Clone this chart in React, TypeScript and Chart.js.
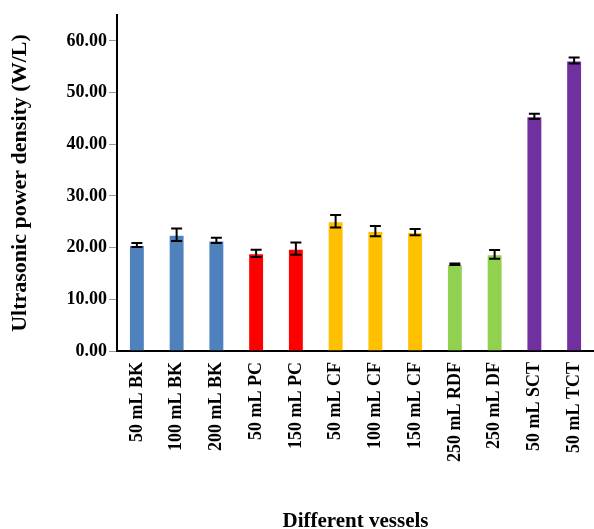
import React, { useEffect, useRef } from 'react';
import { Chart, registerables } from 'chart.js';

Chart.register(...registerables);

const categories = [
  '50 mL BK', '100 mL BK', '200 mL BK', '50 mL PC', '150 mL PC', '50 mL CF',
  '100 mL CF', '150 mL CF', '250 mL RDF', '250 mL DF', '50 mL SCT', '50 mL TCT',
];
const values = [20.5, 22.5, 21.4, 18.9, 19.8, 25.1, 23.2, 23.0, 16.8, 18.7, 45.4, 56.2];
const errors = [0.4, 1.2, 0.5, 0.7, 1.2, 1.2, 1.0, 0.6, 0.15, 0.85, 0.5, 0.6];
const barColors = [
  '#4F81BD', '#4F81BD', '#4F81BD', '#FF0000', '#FF0000', '#FFC000',
  '#FFC000', '#FFC000', '#92D050', '#92D050', '#7030A0', '#7030A0',
];
const yTickValues = [0, 10, 20, 30, 40, 50, 60];

const FONT = '"Liberation Serif", "Times New Roman", serif';

const errorBarPlugin = {
  id: 'errorBars',
  afterDatasetsDraw(chart: any) {
    const ctx = chart.ctx;
    const meta = chart.getDatasetMeta(0);
    const y = chart.scales.y;
    ctx.save();
    ctx.strokeStyle = '#000';
    ctx.lineWidth = 2;
    meta.data.forEach((bar: any, i: number) => {
      const x = bar.x;
      const top = y.getPixelForValue(values[i] + errors[i]);
      const bot = y.getPixelForValue(values[i] - errors[i]);
      ctx.beginPath();
      ctx.moveTo(x, top);
      ctx.lineTo(x, bot);
      ctx.moveTo(x - 5.5, top);
      ctx.lineTo(x + 5.5, top);
      ctx.moveTo(x - 5.5, bot);
      ctx.lineTo(x + 5.5, bot);
      ctx.stroke();
    });
    ctx.restore();
  },
};

export default function App() {
  const ref = useRef<HTMLCanvasElement | null>(null);
  useEffect(() => {
    if (!ref.current) return;
    const chart = new Chart(ref.current, {
      type: 'bar',
      data: {
        labels: categories,
        datasets: [
          {
            data: values,
            backgroundColor: barColors,
            borderColor: 'rgba(255,255,255,0.3)',
            borderWidth: 1,
            barPercentage: 0.4,
            categoryPercentage: 1,
          },
        ],
      },
      options: {
        responsive: true,
        maintainAspectRatio: false,
        animation: false,
        layout: { padding: { top: 15, right: 0, left: 0, bottom: 0 } },
        plugins: { legend: { display: false }, tooltip: { enabled: false } },
        scales: {
          x: {
            grid: { display: false },
            border: { display: true, color: '#000', width: 2 },
            ticks: {
              color: '#000',
              autoSkip: false,
              minRotation: 90,
              maxRotation: 90,
              padding: 3,
              font: { family: FONT, size: 18, weight: 'bold' },
            },
            title: {
              display: true,
              text: 'Different vessels',
              color: '#000',
              padding: 0,
              font: { family: FONT, size: 21, weight: 'bold', lineHeight: 0.7 },
            },
            afterFit: (s: any) => {
              s.height = 178;
              s.paddingRight = 0;
              s.paddingLeft = 0;
            },
          },
          y: {
            min: 0,
            max: 65,
            grid: { display: true, drawOnChartArea: false, color: '#999', tickLength: 8, tickWidth: 1 },
            border: { display: true, color: '#000', width: 2 },
            afterBuildTicks: (s: any) => {
              s.ticks = yTickValues.map((v) => ({ value: v }));
            },
            ticks: {
              color: '#000',
              padding: 2,
              font: { family: FONT, size: 18, weight: 'bold' },
              callback: (v: any) => Number(v).toFixed(2),
            },
            title: {
              display: true,
              text: 'Ultrasonic power density (W/L)',
              color: '#000',
              padding: { top: 7, bottom: 0 },
              font: { family: FONT, size: 22, weight: 'bold', lineHeight: 1.2 },
            },
            afterFit: (s: any) => {
              s.width = 117;
              s.paddingTop = 0;
              s.paddingBottom = 0;
            },
          },
        },
      },
      plugins: [errorBarPlugin],
    });
    return () => chart.destroy();
  }, []);
  return (
    <div style={{ position: 'absolute', left: 0, top: 0, width: 594, height: 529 }}>
      <canvas ref={ref} />
    </div>
  );
}
